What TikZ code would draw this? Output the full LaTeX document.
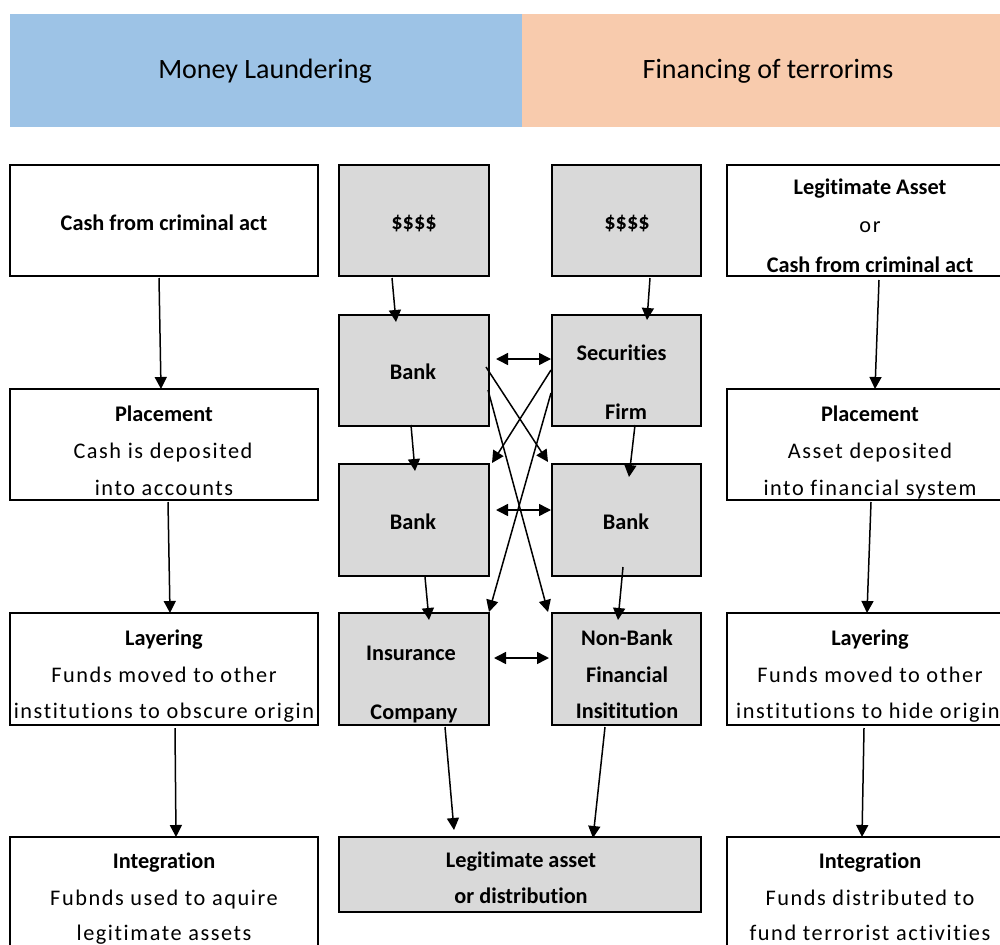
\documentclass[tikz,border=0pt]{standalone}
\usepackage{fontspec}
\setmainfont{Carlito}[Ligatures=NoCommon]
\newfontfamily\spc{Carlito}[LetterSpace=7,Ligatures=NoCommon]
\usetikzlibrary{arrows.meta}
\definecolor{hdblue}{HTML}{9DC3E6}
\definecolor{hdpeach}{HTML}{F8CBAD}
\definecolor{boxgray}{HTML}{D9D9D9}
\begin{document}
\begin{tikzpicture}[x=1pt,y=-1pt,
  bx/.style={draw, line width=2pt, inner sep=0pt, outer sep=0pt},
  lcol/.style={bx, fill=white, minimum width=308pt, minimum height=111pt},
  rcol/.style={bx, fill=white, minimum width=283pt, minimum height=111pt},
  mcol/.style={bx, fill=boxgray, minimum width=150pt, minimum height=111pt},
  hdr/.style={inner sep=0pt, outer sep=0pt, minimum height=113pt, anchor=north west},
  hdt/.style={anchor=base, inner sep=0pt, font=\fontsize{28}{32}\selectfont},
  bt/.style={anchor=base, inner sep=0pt, font=\fontsize{22.3}{26}\selectfont\bfseries},
  st/.style={anchor=base, inner sep=0pt, font=\fontsize{22.3}{26}\spc},
  arr/.style={line width=1.5pt, -{Triangle[length=12pt,width=12pt]}},
  darr/.style={line width=1.5pt, {Triangle[length=12pt,width=12pt]}-{Triangle[length=12pt,width=12pt]}}
]
\useasboundingbox (0,0) rectangle (1000,944);

% header
\node[hdr, fill=hdblue, minimum width=512pt] (ml) at (10,14) {};
\node[hdr, fill=hdpeach, minimum width=490pt] (ft) at (522,14) {};
\node[hdt] (mlT) at (265,79) {Money Laundering};
\node[hdt] (ftT) at (768,79) {Financing of terrorims};

% left column
\node[lcol] (cash) at (164,220.5) {};
\node[lcol] (place) at (164,444.5) {};
\node[lcol, minimum height=112pt] (layer) at (164,669) {};
\node[lcol] (integ) at (164,892.5) {};
% middle left
\node[mcol] (dolL) at (414,220.5) {};
\node[mcol] (bankA) at (414,370.5) {};
\node[mcol, minimum height=112pt] (bankB) at (414,520) {};
\node[mcol, minimum height=112pt] (ins) at (414,669) {};
% middle right
\node[mcol, minimum width=149pt] (dolR) at (626.5,220.5) {};
\node[mcol, minimum width=149pt] (sec) at (626.5,370.5) {};
\node[mcol, minimum width=149pt, minimum height=112pt] (bankC) at (626.5,520) {};
\node[mcol, minimum width=149pt, minimum height=112pt] (nonb) at (626.5,669) {};
% bottom middle
\node[bx, fill=boxgray, minimum width=362pt, minimum height=75pt] (legit) at (520,874.5) {};
% right column
\node[rcol] (rtop) at (868.5,220.5) {};
\node[rcol] (rplace) at (868.5,444.5) {};
\node[rcol, minimum height=112pt] (rlayer) at (868.5,669) {};
\node[rcol] (rinteg) at (868.5,892.5) {};

% texts left
\node[bt] (cashT) at (164,230) {Cash from criminal act};
\node[bt] (placeT1) at (164,421) {Placement};
\node[st] (placeT2) at (163,458) {Cash is deposited};
\node[st] (placeT3) at (164,495) {into accounts};
\node[bt] (layerT1) at (164,645) {Layering};
\node[st] (layerT2) at (164,682) {Funds moved to other};
\node[st] (layerT3) at (164,718) {institutions to obscure origin};
\node[bt] (integT1) at (164,868) {Integration};
\node[st] (integT2) at (164,905) {Fubnds used to aquire};
\node[st] (integT3) at (164,940) {legitimate assets};
% texts middle
\node[bt] (dolLT) at (414,229) {\$\$\$\$};
\node[bt] (dolRT) at (627,229) {\$\$\$\$};
\node[bt] (bankAT) at (413,379) {Bank};
\node[bt] (secT1) at (621.5,360) {Securities};
\node[bt] (secT2) at (626,419) {Firm};
\node[bt] (bankBT) at (413,529) {Bank};
\node[bt] (bankCT) at (626,529) {Bank};
\node[bt] (insT1) at (411,660) {Insurance};
\node[bt] (insT2) at (414,719) {Company};
\node[bt] (nonbT1) at (627,645) {Non-Bank};
\node[bt] (nonbT2) at (627,682) {Financial};
\node[bt] (nonbT3) at (627,718) {Insititution};
\node[bt] (legitT1) at (521,867) {Legitimate asset};
\node[bt] (legitT2) at (521,903) {or distribution};
% texts right
\node[bt] (rtopT1) at (870,194) {Legitimate Asset};
\node[st] (rtopT2) at (870,232) {or};
\node[bt] (rtopT3) at (870,272) {Cash from criminal act};
\node[bt] (rplaceT1) at (870,421) {Placement};
\node[st] (rplaceT2) at (870,458) {Asset deposited};
\node[st] (rplaceT3) at (870,495) {into financial system};
\node[bt] (rlayerT1) at (870,645) {Layering};
\node[st] (rlayerT2) at (870,682) {Funds moved to other};
\node[st] (rlayerT3) at (868,718) {institutions to hide origin};
\node[bt] (rintegT1) at (870,868) {Integration};
\node[st] (rintegT2) at (870,905) {Funds distributed to};
\node[st] (rintegT3) at (870,940) {fund terrorist activities};

% arrows outer columns
\draw[arr] ([xshift=-5pt,yshift=-2pt]cash.south) -- ([xshift=-3pt]place.north);
\draw[arr] ([xshift=4pt,yshift=-2pt]place.south) -- ([xshift=6pt]layer.north);
\draw[arr] ([xshift=11pt,yshift=-3pt]layer.south) -- ([xshift=12pt]integ.north);
\draw[arr] ([xshift=10.5pt,yshift=-4pt]rtop.south) -- ([xshift=6.5pt]rplace.north);
\draw[arr] ([xshift=2.5pt,yshift=-2pt]rplace.south) -- ([xshift=-1.5pt]rlayer.north);
\draw[arr] ([xshift=-4.5pt,yshift=-3pt]rlayer.south) -- ([xshift=-6.5pt]rinteg.north);
% arrows middle vertical
\draw[arr] ([xshift=-22pt,yshift=-2pt]dolL.south) -- ([xshift=-18pt,yshift=-7pt]bankA.north);
\draw[arr] ([xshift=23.5pt,yshift=-2pt]dolR.south) -- ([xshift=20.5pt,yshift=-5pt]sec.north);
\draw[arr] ([xshift=-3pt,yshift=1pt]bankA.south) -- ([xshift=1pt,yshift=-7pt]bankB.north);
\draw[arr] ([xshift=8.5pt,yshift=1pt]sec.south) -- ([xshift=2.5pt,yshift=-13pt]bankC.north);
\draw[arr] ([xshift=11pt,yshift=-1pt]bankB.south) -- ([xshift=15pt,yshift=-7pt]ins.north);
\draw[arr] ([xshift=-3.5pt,yshift=9pt]bankC.south) -- ([xshift=-8.5pt,yshift=-7pt]nonb.north);
\draw[arr] ([xshift=31pt,yshift=-2pt]ins.south) -- ([xshift=-66pt,yshift=7pt]legit.north);
\draw[arr] ([xshift=-21.5pt,yshift=-2pt]nonb.south) -- ([xshift=73pt,yshift=-1pt]legit.north);
% double arrows
\draw[darr] ([xshift=7pt,yshift=11.5pt]bankA.east) -- ([xshift=-1pt,yshift=11.5pt]sec.west);
\draw[darr] ([xshift=7pt,yshift=10pt]bankB.east) -- ([xshift=-1pt,yshift=10pt]bankC.west);
\draw[darr] ([xshift=5pt,yshift=11pt]ins.east) -- ([xshift=-3pt,yshift=11pt]nonb.west);
% crossing arrows
\draw[arr] ([xshift=-3pt,yshift=3.5pt]bankA.east) -- ([xshift=-4pt,yshift=2pt]bankC.north west);
\draw[arr] ([xshift=-1pt,yshift=-19.5pt]bankA.east) -- ([xshift=-4pt,yshift=1pt]nonb.north west);
\draw[arr] ([xshift=-1pt,yshift=0.5pt]sec.west) -- ([xshift=3pt,yshift=1pt]bankB.north east);
\draw[arr] ([xshift=-1pt,yshift=-22.5pt]sec.west) -- ([yshift=1pt]ins.north east);
\end{tikzpicture}
\end{document}
